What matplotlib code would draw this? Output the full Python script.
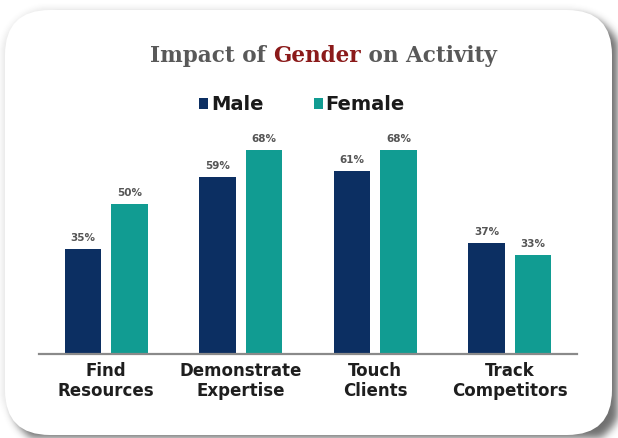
import numpy as np
import matplotlib
matplotlib.use("Agg")
import matplotlib.pyplot as plt
from matplotlib.patches import FancyBboxPatch

categories = ["Find\nResources", "Demonstrate\nExpertise", "Touch\nClients", "Track\nCompetitors"]
male = [35, 59, 61, 37]
female = [50, 68, 68, 33]
series_names = ["Male", "Female"]

MALE_COLOR = "#0c2f62"
FEMALE_COLOR = "#119c92"

W, H = 618, 438
fig = plt.figure(figsize=(W / 100, H / 100), dpi=100)
fig.patch.set_facecolor("white")

# card background: soft shadow + white rounded panel
bg = fig.add_axes([0, 0, 1, 1])
bg.set_xlim(0, W)
bg.set_ylim(H, 0)
bg.axis("off")


def rounded_mask(x0, y0, x1, y1, r):
    yy, xx = np.mgrid[0:H, 0:W] + 0.5
    cx = np.clip(xx, x0 + r, x1 - r)
    cy = np.clip(yy, y0 + r, y1 - r)
    d = np.hypot(xx - cx, yy - cy)
    return (d <= r).astype(float)


def blur(a, s):
    k = np.arange(-3 * s, 3 * s + 1)
    g = np.exp(-k ** 2 / (2 * s * s))
    g /= g.sum()
    a = np.apply_along_axis(lambda v: np.convolve(v, g, mode="same"), 0, a)
    a = np.apply_along_axis(lambda v: np.convolve(v, g, mode="same"), 1, a)
    return a


shadow = blur(rounded_mask(10, 14, 622, 446, 48), 4) * 0.75
faint = blur(rounded_mask(2, 8, 612, 436, 46), 3) * 0.12
alpha = np.clip(np.maximum(shadow, faint), 0, 1)
img = np.zeros((H, W, 4))
img[..., :3] = 0.25
img[..., 3] = alpha
bg.imshow(img, extent=(0, W, H, 0), zorder=0, interpolation="bilinear")
card = FancyBboxPatch((5 + 45, 10 + 45), 607 - 90, 425 - 90,
                      boxstyle="round,pad=45", fc="white", ec="none", zorder=1)
bg.add_patch(card)

# bar chart
ax = fig.add_axes([39 / W, 1 - 354 / H, 538 / W, 225 / H])
ax.patch.set_alpha(0)
x = np.arange(len(categories))
bw = 0.27
off = 0.172
b1 = ax.bar(x - off, male, bw, color=MALE_COLOR, label=series_names[0], zorder=2)
b2 = ax.bar(x + off, female, bw, color=FEMALE_COLOR, label=series_names[1], zorder=2)

for bars, vals in ((b1, male), (b2, female)):
    for rect, v in zip(bars, vals):
        ax.annotate(f"{v}%", (rect.get_x() + rect.get_width() / 2, v),
                    xytext=(0, 4), textcoords="offset points",
                    ha="center", va="bottom", fontsize=7.5, fontweight="bold",
                    color="#555555")

ax.set_xlim(-0.5, 3.5)
ax.set_ylim(0, 75)
ax.set_yticks([])
ax.set_xticks(x)
ax.set_xticklabels(categories, fontsize=12, fontweight="bold", color="#1e1e1e",
                   linespacing=1.15)
ax.tick_params(axis="x", length=0, pad=6)
for s in ("top", "right", "left"):
    ax.spines[s].set_visible(False)
ax.spines["bottom"].set_color("#8a8a8a")
ax.spines["bottom"].set_linewidth(1.6)

leg = ax.legend(loc="center", bbox_to_anchor=(302 / W, 1 - 105 / H),
                bbox_transform=fig.transFigure, ncol=2, frameon=False,
                handlelength=0.45, handleheight=0.45, handletextpad=0.15,
                columnspacing=2.6, prop={"weight": "bold", "size": 14})
for t in leg.get_texts():
    t.set_color("#1a1a1a")

# title with the highlighted word in red
parts = [("Impact of ", "#595959"), ("Gender", "#8b1a1a"), (" on Activity", "#595959")]
fig.canvas.draw()
r = fig.canvas.get_renderer()
texts = []
for s, c in parts:
    texts.append(fig.text(0, 1 - 56 / H, s, color=c, fontsize=15.5, fontweight="bold",
                          family="DejaVu Serif", va="center", ha="left"))
widths = [t.get_window_extent(r).width for t in texts]
total = sum(widths)
xpos = 323 - total / 2
for t, w in zip(texts, widths):
    t.set_x(xpos / W)
    xpos += w

fig.savefig("out.png", dpi=100)
